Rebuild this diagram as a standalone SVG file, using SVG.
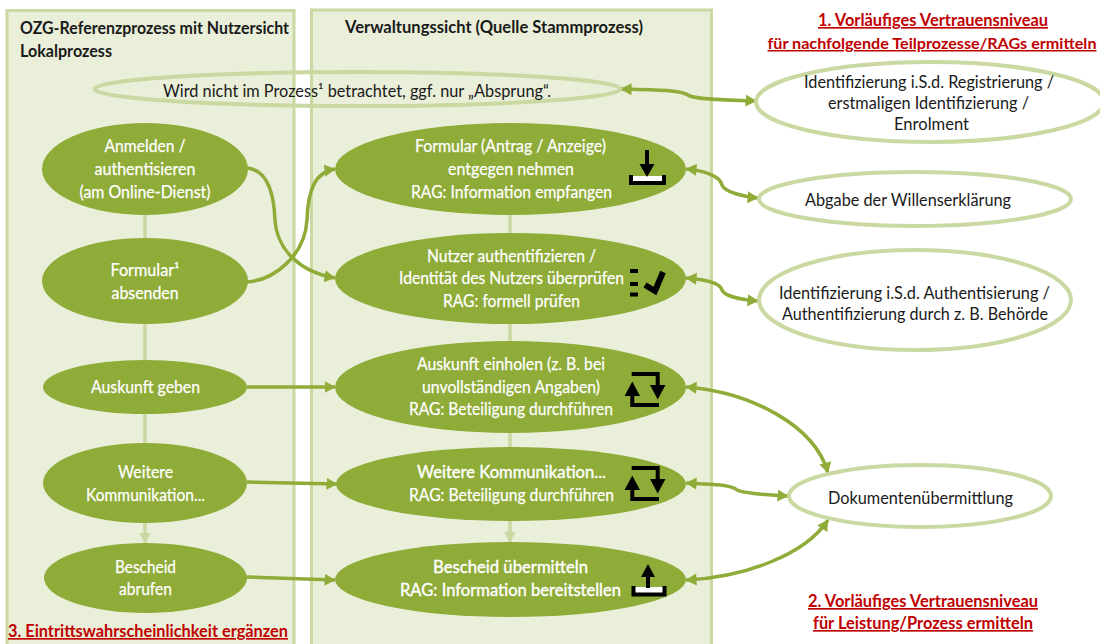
<svg xmlns="http://www.w3.org/2000/svg" width="1100" height="644" viewBox="0 0 1100 644">
<style>
text{font-family:Lato,"Liberation Sans",sans-serif;font-size:17px}
.w{fill:#fff;text-anchor:middle;stroke:#fff;stroke-width:.25}
.s{stroke-width:.4}
.k{fill:#1a1a1a;text-anchor:middle}
.h{fill:#1a1a1a;font-weight:700;font-size:16.500px}
.r{fill:#c00000;font-weight:700;font-size:16.500px;text-anchor:middle;text-decoration:underline}
.panel{fill:#e9efd9;stroke:#c9d9a1;stroke-width:3}
.n{fill:#8fab38}
.o{fill:#fff;stroke:#c9d9a1;stroke-width:4}
.t{fill:none;stroke:#c9d9a1;stroke-width:4}
.p{fill:none;stroke:#c9d9a1;stroke-width:3.500}
.c{fill:none;stroke:#8fab38;stroke-width:3.500}
.a{marker-end:url(#ag)}
.b{marker-start:url(#ags);marker-end:url(#ag)}
.ik{fill:none;stroke:#000;stroke-width:4}
</style>
<defs>
<marker id="ag" markerUnits="userSpaceOnUse" markerWidth="13" markerHeight="13" refX="10.500" refY="6.500" orient="auto"><path d="M0 0.500L11 6.500L0 12.500z" fill="#8fab38"/></marker>
<marker id="ags" markerUnits="userSpaceOnUse" markerWidth="13" markerHeight="13" refX="1" refY="6.500" orient="auto"><path d="M11.500 0.500L0.500 6.500L11.500 12.500z" fill="#8fab38"/></marker>
<marker id="ap" markerUnits="userSpaceOnUse" markerWidth="13" markerHeight="13" refX="10.500" refY="6.500" orient="auto"><path d="M0 0.500L11 6.500L0 12.500z" fill="#c9d9a1"/></marker>
<g id="cycle">
<path d="M631.700 374H657.700V387M659 405H632.300V393" class="ik"/>
<path d="M650 385H665.500L657.700 399.500zM624.500 396H640L632.300 381.500z"/>
</g>
</defs>

<g id="panel-left">
<rect class="panel" x="7" y="10.500" width="287" height="650"/>
<text class="h" x="20" y="34" textLength="269" lengthAdjust="spacingAndGlyphs">OZG-Referenzprozess mit Nutzersicht</text>
<text class="h" x="20" y="57" textLength="92" lengthAdjust="spacingAndGlyphs">Lokalprozess</text>
</g>
<g id="panel-right">
<rect class="panel" x="311.500" y="10" width="400" height="650"/>
<text class="h" x="345" y="33" textLength="298" lengthAdjust="spacingAndGlyphs">Verwaltungssicht (Quelle Stammprozess)</text>
</g>

<g id="connectors">
<path class="p" d="M145 215V238M145 324V360M145 414V443"/>
<path class="p" style="marker-end:url(#ap)" d="M145 523V543"/>
<path class="p" d="M510 214V233M510 324V341M510 433V447"/>
<path class="p" style="marker-end:url(#ap)" d="M510 521V542"/>
<path class="c a" d="M247 168C268 170 274 195 275 220C277 250 300 272 335 278"/>
<path class="c a" d="M247 282C275 280 305 255 307 220C308 190 315 172 335 169"/>
<path class="c a" d="M247 387H335"/>
<path class="c a" d="M247 482L337 484"/>
<path class="c a" d="M247 577L335 580"/>
<path class="c b" d="M621 89C660 90 680 90 688 95C695 100 730 100 756 101"/>
<path class="c b" d="M686 169C700 170 720 175 722 185C724 192 745 197 758 198"/>
<path class="c b" d="M686 278C700 279 720 282 722 290C725 297 745 300 758 301"/>
<path class="c b" d="M686 387C750 392 815 425 828 473"/>
<path class="c b" d="M686 483C705 484 730 484 737 490C745 494 770 495 788 496"/>
<path class="c b" d="M686 580C745 577 805 555 828 520"/>
</g>

<g id="node-abspruch">
<ellipse class="t" cx="357.500" cy="89" rx="263" ry="17"/>
<text class="k" x="357" y="97" textLength="388" lengthAdjust="spacingAndGlyphs">Wird nicht im Prozess¹ betrachtet, ggf. nur „Absprung“.</text>
</g>

<g id="node-anmelden">
<ellipse class="n" cx="145" cy="169" rx="103" ry="46"/>
<text class="w" x="145" y="152" textLength="81" lengthAdjust="spacingAndGlyphs">Anmelden /</text>
<text class="w" x="145" y="175" textLength="101" lengthAdjust="spacingAndGlyphs">authentisieren</text>
<text class="w" x="145" y="198" textLength="131" lengthAdjust="spacingAndGlyphs">(am Online-Dienst)</text>
</g>
<g id="node-formular-absenden">
<ellipse class="n" cx="145" cy="281" rx="103" ry="43"/>
<text class="w" x="145" y="276" textLength="69" lengthAdjust="spacingAndGlyphs">Formular¹</text>
<text class="w" x="145" y="299" textLength="67" lengthAdjust="spacingAndGlyphs">absenden</text>
</g>
<g id="node-auskunft-geben">
<ellipse class="n" cx="145" cy="387" rx="102" ry="27"/>
<text class="w" x="145.500" y="393" textLength="109" lengthAdjust="spacingAndGlyphs">Auskunft geben</text>
</g>
<g id="node-weitere">
<ellipse class="n" cx="145" cy="483" rx="102" ry="40"/>
<text class="w" x="145.500" y="478" textLength="55" lengthAdjust="spacingAndGlyphs">Weitere</text>
<text class="w" x="145.500" y="501" textLength="119" lengthAdjust="spacingAndGlyphs">Kommunikation...</text>
</g>
<g id="node-bescheid">
<ellipse class="n" cx="145.500" cy="578" rx="101.500" ry="35"/>
<text class="w" x="145.500" y="573" textLength="61" lengthAdjust="spacingAndGlyphs">Bescheid</text>
<text class="w" x="145.500" y="595" textLength="53" lengthAdjust="spacingAndGlyphs">abrufen</text>
</g>

<g id="node-formular-entgegen">
<ellipse class="n" cx="510.500" cy="169" rx="175.500" ry="46"/>
<text class="w" x="510.500" y="152" textLength="191" lengthAdjust="spacingAndGlyphs">Formular (Antrag / Anzeige)</text>
<text class="w" x="511" y="175" textLength="126" lengthAdjust="spacingAndGlyphs">entgegen nehmen</text>
<text class="w" x="511.500" y="198" textLength="201" lengthAdjust="spacingAndGlyphs">RAG: Information empfangen</text>
<rect x="631" y="176" width="33" height="7" fill="#fff"/>
<path d="M631 175V183H664V175" class="ik"/>
<path d="M647 150V168" stroke="#000" stroke-width="4"/>
<path d="M639.500 164H654.500L647 177z"/>
</g>
<g id="node-nutzer">
<ellipse class="n" cx="510.500" cy="278.500" rx="175.500" ry="45.500"/>
<text class="w" x="511.500" y="262" textLength="169" lengthAdjust="spacingAndGlyphs">Nutzer authentifizieren /</text>
<text class="w" x="511.500" y="284" textLength="225" lengthAdjust="spacingAndGlyphs">Identität des Nutzers überprüfen</text>
<text class="w" x="511.500" y="307" textLength="137" lengthAdjust="spacingAndGlyphs">RAG: formell prüfen</text>
<path d="M630 269h8v4h-8zM630 282h8v4h-8zM630 292.500h8v4h-8z"/>
<path d="M645 285L655 291L663 272" fill="none" stroke="#000" stroke-width="6"/>
</g>
<g id="node-auskunft-einholen">
<ellipse class="n" cx="510.500" cy="387" rx="175.500" ry="46"/>
<text class="w" x="511" y="370" textLength="188" lengthAdjust="spacingAndGlyphs">Auskunft einholen (z. B. bei</text>
<text class="w" x="511" y="393" textLength="178" lengthAdjust="spacingAndGlyphs">unvollständigen Angaben)</text>
<text class="w" x="511" y="415" textLength="204" lengthAdjust="spacingAndGlyphs">RAG: Beteiligung durchführen</text>
<use href="#cycle"/>
</g>
<g id="node-weitere-kommunikation">
<ellipse class="n" cx="511" cy="484" rx="175" ry="37"/>
<text class="w s" x="511.500" y="478" textLength="189" lengthAdjust="spacingAndGlyphs">Weitere Kommunikation...</text>
<text class="w" x="511.500" y="501" textLength="205" lengthAdjust="spacingAndGlyphs">RAG: Beteiligung durchführen</text>
<use href="#cycle" y="94"/>
</g>
<g id="node-bescheid-uebermitteln">
<ellipse class="n" cx="510.500" cy="579.500" rx="175.500" ry="37.500"/>
<text class="w s" x="510.500" y="573" textLength="155" lengthAdjust="spacingAndGlyphs">Bescheid übermitteln</text>
<text class="w s" x="510.500" y="596" textLength="221" lengthAdjust="spacingAndGlyphs">RAG: Information bereitstellen</text>
<rect x="633" y="587" width="31" height="7" fill="#fff"/>
<path d="M633.500 586V594.500H664.500V586" class="ik"/>
<path d="M648 574V588" stroke="#000" stroke-width="4"/>
<path d="M641 577H655L648 564z"/>
</g>

<g id="node-identifizierung-registrierung">
<ellipse class="o" cx="930" cy="102" rx="174" ry="40"/>
<text class="k" x="929" y="88" textLength="250" lengthAdjust="spacingAndGlyphs">Identifizierung i.S.d. Registrierung /</text>
<text class="k" x="928.500" y="109" textLength="201" lengthAdjust="spacingAndGlyphs">erstmaligen Identifizierung /</text>
<text class="k" x="931.500" y="130" textLength="75" lengthAdjust="spacingAndGlyphs">Enrolment</text>
</g>
<g id="node-abgabe">
<ellipse class="o" cx="915" cy="199" rx="156" ry="27"/>
<text class="k" x="908" y="206" textLength="206" lengthAdjust="spacingAndGlyphs">Abgabe der Willenserklärung</text>
</g>
<g id="node-identifizierung-authentisierung">
<ellipse class="o" cx="915" cy="300" rx="156" ry="50"/>
<text class="k" x="914.500" y="299" textLength="271" lengthAdjust="spacingAndGlyphs">Identifizierung i.S.d. Authentisierung /</text>
<text class="k" x="915" y="320" textLength="266" lengthAdjust="spacingAndGlyphs">Authentifizierung durch z. B. Behörde</text>
</g>
<g id="node-dokument">
<ellipse class="o" cx="920" cy="496" rx="131" ry="31"/>
<text class="k" x="920.500" y="504" textLength="185" lengthAdjust="spacingAndGlyphs">Dokumentenübermittlung</text>
</g>

<g id="labels">
<text class="r" x="933" y="26" textLength="230" lengthAdjust="spacingAndGlyphs">1. Vorläufiges Vertrauensniveau</text>
<text class="r" x="932" y="49" textLength="329" lengthAdjust="spacingAndGlyphs" style="font-size:15px">für nachfolgende Teilprozesse/RAGs ermitteln</text>
<text class="r" x="923" y="607" textLength="230" lengthAdjust="spacingAndGlyphs">2. Vorläufiges Vertrauensniveau</text>
<text class="r" x="923" y="629" textLength="220" lengthAdjust="spacingAndGlyphs">für Leistung/Prozess ermitteln</text>
<text class="r" x="148" y="637" textLength="280" lengthAdjust="spacingAndGlyphs">3. Eintrittswahrscheinlichkeit ergänzen</text>
</g>
</svg>
